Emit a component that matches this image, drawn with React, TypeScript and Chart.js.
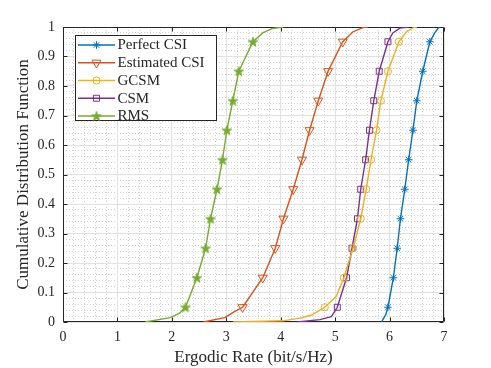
import React, { useEffect, useRef } from 'react';
import { Chart, registerables } from 'chart.js';
import { drawPoint } from 'chart.js/helpers';

Chart.register(...registerables);

const seriesLabels = ['Perfect CSI', 'Estimated CSI', 'GCSM', 'CSM', 'RMS'];
const seriesColors = ['#0072BD', '#D95319', '#EDB120', '#7E2F8E', '#77AC30'];
const markerLevels = [0.05, 0.15, 0.25, 0.35, 0.45, 0.55, 0.65, 0.75, 0.85, 0.95];

const perfectX = [5.85, 5.93, 5.97, 6.07, 6.14, 6.2, 6.28, 6.35, 6.43, 6.5, 6.61, 6.74, 6.83, 6.91];
const perfectY = [0, 0.025, 0.05, 0.15, 0.25, 0.35, 0.45, 0.55, 0.65, 0.75, 0.85, 0.95, 0.98, 1];

const estimatedX = [2.58, 2.97, 3.15, 3.3, 3.67, 3.9, 4.05, 4.23, 4.39, 4.53, 4.69, 4.87, 5.14, 5.33, 5.51, 5.6];
const estimatedY = [0, 0.015, 0.035, 0.05, 0.15, 0.25, 0.35, 0.45, 0.55, 0.65, 0.75, 0.85, 0.95, 0.984, 0.998, 1];

const gcsmX = [3.12, 4.04, 4.35, 4.55, 4.81, 5.02, 5.16, 5.33, 5.47, 5.57, 5.66, 5.76, 5.84, 5.97, 6.17, 6.31, 6.43, 6.5];
const gcsmY = [0, 0.004, 0.013, 0.022, 0.05, 0.087, 0.15, 0.25, 0.35, 0.45, 0.55, 0.65, 0.75, 0.85, 0.95, 0.984, 0.997, 1];

const csmX = [4.31, 4.72, 4.93, 5.04, 5.21, 5.31, 5.41, 5.47, 5.56, 5.63, 5.71, 5.81, 5.97, 6.06, 6.19, 6.35];
const csmY = [0, 0.008, 0.018, 0.05, 0.15, 0.25, 0.35, 0.45, 0.55, 0.65, 0.75, 0.85, 0.95, 0.98, 0.996, 1];

const rmsX = [1.51, 1.97, 2.14, 2.25, 2.46, 2.62, 2.71, 2.83, 2.93, 3.01, 3.12, 3.23, 3.49, 3.67, 3.85, 4.05];
const rmsY = [0, 0.015, 0.03, 0.05, 0.15, 0.25, 0.35, 0.45, 0.55, 0.65, 0.75, 0.85, 0.95, 0.98, 0.995, 1];

const xTicks = [0, 1, 2, 3, 4, 5, 6, 7];
const yTicks = [0, 0.1, 0.2, 0.3, 0.4, 0.5, 0.6, 0.7, 0.8, 0.9, 1];

const FONT = "'Liberation Serif', 'Times New Roman', serif";
const AXIS_COLOR = '#262626';

function makePentagram(color: string, r: number): HTMLCanvasElement {
  const c = document.createElement('canvas');
  const s = Math.ceil(2 * r + 2);
  c.width = s;
  c.height = s;
  const g = c.getContext('2d')!;
  const cx = s / 2;
  const cy = s / 2 + r * 0.1;
  const ri = r * 0.382;
  g.beginPath();
  for (let i = 0; i < 10; i++) {
    const rad = i % 2 === 0 ? r : ri;
    const ang = -Math.PI / 2 + (i * Math.PI) / 5;
    const px = cx + rad * Math.cos(ang);
    const py = cy + rad * Math.sin(ang);
    if (i === 0) g.moveTo(px, py);
    else g.lineTo(px, py);
  }
  g.closePath();
  g.fillStyle = color;
  g.strokeStyle = color;
  g.lineWidth = 1;
  g.fill();
  g.stroke();
  return c;
}

function toPoints(xs: number[], ys: number[]) {
  return xs.map((x, i) => ({ x, y: ys[i] }));
}

function isMarker(y: number) {
  return markerLevels.some((l) => Math.abs(l - y) < 1e-9);
}

const boxPlugin = {
  id: 'matlabBox',
  beforeDatasetsDraw(chart: any) {
    const { ctx, chartArea: a, scales } = chart;
    const L = Math.round(a.left) + 0.5;
    const R = Math.round(a.right) - 0.5;
    const T = Math.round(a.top) + 0.5;
    const B = Math.round(a.bottom) - 0.5;
    ctx.save();
    ctx.strokeStyle = AXIS_COLOR;
    ctx.lineWidth = 1;
    ctx.beginPath();
    ctx.rect(L, T, R - L, B - T);
    const tl = 4;
    xTicks.forEach((v) => {
      const px = Math.round(scales.x.getPixelForValue(v)) + 0.5;
      ctx.moveTo(px, B);
      ctx.lineTo(px, B - tl);
      ctx.moveTo(px, T);
      ctx.lineTo(px, T + tl);
    });
    yTicks.forEach((v) => {
      const py = Math.round(scales.y.getPixelForValue(v)) + 0.5;
      ctx.moveTo(L, py);
      ctx.lineTo(L + tl, py);
      ctx.moveTo(R, py);
      ctx.lineTo(R - tl, py);
    });
    ctx.stroke();
    ctx.restore();
  },
};

const legendPlugin = {
  id: 'matlabLegend',
  afterDraw(chart: any) {
    const { ctx } = chart;
    const bx = 75.5;
    const by = 35.5;
    const bw = 141;
    const bh = 85;
    ctx.save();
    ctx.fillStyle = '#ffffff';
    ctx.fillRect(bx, by, bw, bh);
    ctx.strokeStyle = AXIS_COLOR;
    ctx.lineWidth = 1;
    ctx.strokeRect(bx, by, bw, bh);
    chart.data.datasets.forEach((ds: any, i: number) => {
      const y = 45 + i * 17.75;
      ctx.strokeStyle = ds.borderColor;
      ctx.lineWidth = ds.borderWidth;
      ctx.beginPath();
      ctx.moveTo(78, y);
      ctx.lineTo(115, y);
      ctx.stroke();
      ctx.lineWidth = 1;
      ctx.fillStyle = 'rgba(0,0,0,0)';
      drawPoint(ctx, {
        pointStyle: ds.pointStyle,
        rotation: ds.rotation || 0,
        radius: ds.markerSize,
        borderWidth: 1,
      } as any, 96.5, y);
      ctx.fillStyle = AXIS_COLOR;
      ctx.font = `15px ${FONT}`;
      ctx.textAlign = 'left';
      ctx.textBaseline = 'middle';
      ctx.fillText(ds.label, 117.5, y + 0.5);
    });
    ctx.restore();
  },
};

export default function App() {
  const ref = useRef<HTMLCanvasElement>(null);

  useEffect(() => {
    if (!ref.current) return;
    const seriesXs = [perfectX, estimatedX, gcsmX, csmX, rmsX];
    const seriesYs = [perfectY, estimatedY, gcsmY, csmY, rmsY];
    const styles: any[] = ['star', 'triangle', 'circle', 'rect', makePentagram(seriesColors[4], 5)];
    const sizes = [3.8, 5.2, 3.6, 4.2, 5];
    const rotations = [0, 180, 0, 0, 0];

    const datasets = seriesLabels.map((label, i) => ({
      label,
      data: toPoints(seriesXs[i], seriesYs[i]),
      borderColor: seriesColors[i],
      backgroundColor: 'rgba(0,0,0,0)',
      borderWidth: 1.4,
      pointStyle: styles[i],
      rotation: rotations[i],
      markerSize: sizes[i],
      pointRadius: (c: any) => (c.raw && isMarker(c.raw.y) ? sizes[i] : 0),
      pointHoverRadius: 0,
      pointBorderColor: seriesColors[i],
      pointBackgroundColor: i === 4 ? seriesColors[i] : 'rgba(0,0,0,0)',
      pointBorderWidth: 1,
      tension: 0,
      fill: false,
    }));

    const tickFont = { family: FONT, size: 14 };
    const titleFont = { family: FONT, size: 17, lineHeight: 1.2 };

    const chart = new Chart(ref.current, {
      type: 'line',
      data: { datasets: datasets as any },
      plugins: [boxPlugin, legendPlugin],
      options: {
        animation: false,
        responsive: false,
        maintainAspectRatio: false,
        devicePixelRatio: 1,
        layout: { padding: { top: 27, right: 47, left: 0, bottom: 0 } },
        plugins: { legend: { display: false }, tooltip: { enabled: false } },
        events: [],
        scales: {
          xMinor: {
            type: 'linear',
            position: 'bottom',
            min: 0,
            max: 7,
            afterFit: (s: any) => { s.height = 0; },
            ticks: { display: false, stepSize: 0.2, autoSkip: false, maxTicksLimit: 200 },
            grid: {
              drawTicks: false,
              lineWidth: 1,
              color: (c: any) => {
                const v = c.tick ? c.tick.value : 0;
                return Math.abs(v - Math.round(v)) < 1e-6 ? 'rgba(0,0,0,0)' : '#d2d2d2';
              },
            },
            border: { display: false, dash: [1, 2] },
          },
          yMinor: {
            type: 'linear',
            position: 'left',
            min: 0,
            max: 1,
            afterFit: (s: any) => { s.width = 0; },
            ticks: { display: false, stepSize: 0.02, autoSkip: false, maxTicksLimit: 200 },
            grid: {
              drawTicks: false,
              lineWidth: 1,
              color: (c: any) => {
                const v = c.tick ? c.tick.value * 10 : 0;
                return Math.abs(v - Math.round(v)) < 1e-6 ? 'rgba(0,0,0,0)' : '#d2d2d2';
              },
            },
            border: { display: false, dash: [1, 2] },
          },
          x: {
            type: 'linear',
            position: 'bottom',
            min: 0,
            max: 7,
            afterFit: (s: any) => { s.height = 46; },
            ticks: {
              stepSize: 1,
              padding: 7,
              autoSkip: false,
              maxRotation: 0,
              color: AXIS_COLOR,
              font: tickFont,
              callback: (v: any) => String(Math.round(Number(v))),
            },
            grid: { drawTicks: false, color: '#e2e2e2', lineWidth: 1 },
            border: { display: false },
            title: {
              display: true,
              text: 'Ergodic Rate (bit/s/Hz)',
              color: AXIS_COLOR,
              font: titleFont,
              padding: { top: 0, bottom: 0 },
            },
          },
          y: {
            type: 'linear',
            position: 'left',
            min: 0,
            max: 1,
            afterFit: (s: any) => { s.width = 63; },
            ticks: {
              stepSize: 0.1,
              padding: 8,
              autoSkip: false,
              color: AXIS_COLOR,
              font: tickFont,
              callback: (v: any) => String(Number(Number(v).toFixed(1))),
            },
            grid: { drawTicks: false, color: '#e2e2e2', lineWidth: 1 },
            border: { display: false },
            title: {
              display: true,
              text: 'Cumulative Distribution Function',
              color: AXIS_COLOR,
              font: titleFont,
              padding: { top: 13, bottom: 0 },
            },
          },
        },
      } as any,
    });
    return () => chart.destroy();
  }, []);

  return (
    <div style={{ position: 'absolute', left: 0, top: 0, width: 491, height: 368, background: '#fff' }}>
      <canvas ref={ref} width={491} height={368} style={{ display: 'block' }} />
    </div>
  );
}
